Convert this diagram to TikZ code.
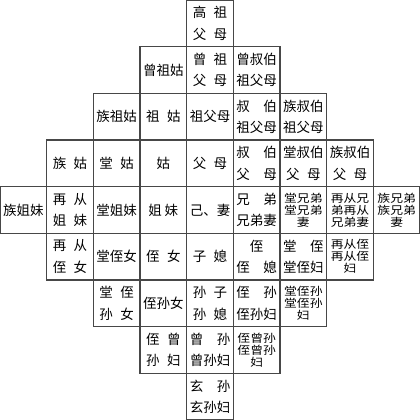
\documentclass[tikz,border=0pt]{standalone}
\usepackage{fontspec}
\setmainfont{Noto Sans CJK SC}
\newcommand\two[2]{#1\hspace{0.55em}#2}
\newcommand\wide[2]{#1\hspace{1em}#2}
\newcommand\sq[1]{\scalebox{0.95}[0.82]{#1}}
\tikzset{
  cellbox/.style={draw=black!72, line width=1.3pt, minimum width=46.667pt,
    minimum height=46.667pt, inner sep=0pt, align=center,
    font=\fontsize{13.5pt}{21.5pt}\selectfont},
  tightbox/.style={cellbox, font=\fontsize{13.5pt}{12pt}\selectfont}
}
\newcommand\cellat[4][cellbox]{%
  \node[#1] (c#2#3) at ({#3*46.667pt+23.333pt},{-(#2*46.667pt+23.333pt)}) {#4};}
\begin{document}
\begin{tikzpicture}
\fill[white] (0,0) rectangle (420pt,-420pt);
\useasboundingbox (0,0) rectangle (420pt,-420pt);
\begin{scope}
\clip (0,0) rectangle (420pt,-420pt);
% row 0
\cellat{0}{4}{\two{高}{祖}\\\two{父}{母}}
% row 1
\cellat{1}{3}{曾祖姑}
\cellat{1}{4}{\two{曾}{祖}\\\two{父}{母}}
\cellat{1}{5}{曾叔伯\\祖父母}
% row 2
\cellat{2}{2}{族祖姑}
\cellat{2}{3}{\two{祖}{姑}}
\cellat{2}{4}{祖父母}
\cellat{2}{5}{\wide{叔}{伯}\\祖父母}
\cellat{2}{6}{族叔伯\\祖父母}
% row 3
\cellat{3}{1}{\two{族}{姑}}
\cellat{3}{2}{\two{堂}{姑}}
\cellat{3}{3}{姑}
\cellat{3}{4}{\two{父}{母}}
\cellat{3}{5}{\wide{叔}{伯}\\\wide{父}{母}}
\cellat{3}{6}{堂叔伯\\\two{父}{母}}
\cellat{3}{7}{族叔伯\\\two{父}{母}}
% row 4
\cellat{4}{0}{族姐妹}
\cellat{4}{1}{\two{再}{从}\\\two{姐}{妹}}
\cellat{4}{2}{堂姐妹}
\cellat{4}{3}{姐\hspace{0.2em}妹}
\cellat{4}{4}{己、妻}
\cellat{4}{5}{\wide{兄}{弟}\\兄弟妻}
\cellat[tightbox]{4}{6}{\sq{堂兄弟}\\\sq{堂兄弟}\\\sq{妻}}
\cellat[tightbox]{4}{7}{\sq{再从兄}\\\sq{弟再从}\\\sq{兄弟妻}}
\cellat[tightbox]{4}{8}{\sq{族兄弟}\\\sq{族兄弟}\\\sq{妻}}
% row 5
\cellat{5}{1}{\two{再}{从}\\\two{侄}{女}}
\cellat{5}{2}{堂侄女}
\cellat{5}{3}{\two{侄}{女}}
\cellat{5}{4}{\two{子}{媳}}
\cellat{5}{5}{侄\\\wide{侄}{媳}}
\cellat{5}{6}{\wide{堂}{侄}\\堂侄妇}
\cellat[tightbox]{5}{7}{\sq{再从侄}\\\sq{再从侄}\\\sq{妇}}
% row 6
\cellat{6}{2}{\two{堂}{侄}\\\two{孙}{女}}
\cellat{6}{3}{侄孙女}
\cellat{6}{4}{\two{孙}{子}\\\two{孙}{媳}}
\cellat{6}{5}{\wide{侄}{孙}\\侄孙妇}
\cellat[tightbox]{6}{6}{\sq{堂侄孙}\\\sq{堂侄孙}\\\sq{妇}}
% row 7
\cellat{7}{3}{\two{侄}{曾}\\\two{孙}{妇}}
\cellat{7}{4}{\wide{曾}{孙}\\曾孙妇}
\cellat[tightbox]{7}{5}{\sq{侄曾孙}\\\sq{侄曾孙}\\\sq{妇}}
% row 8
\cellat{8}{4}{\wide{玄}{孙}\\玄孙妇}
\end{scope}
\end{tikzpicture}
\end{document}
